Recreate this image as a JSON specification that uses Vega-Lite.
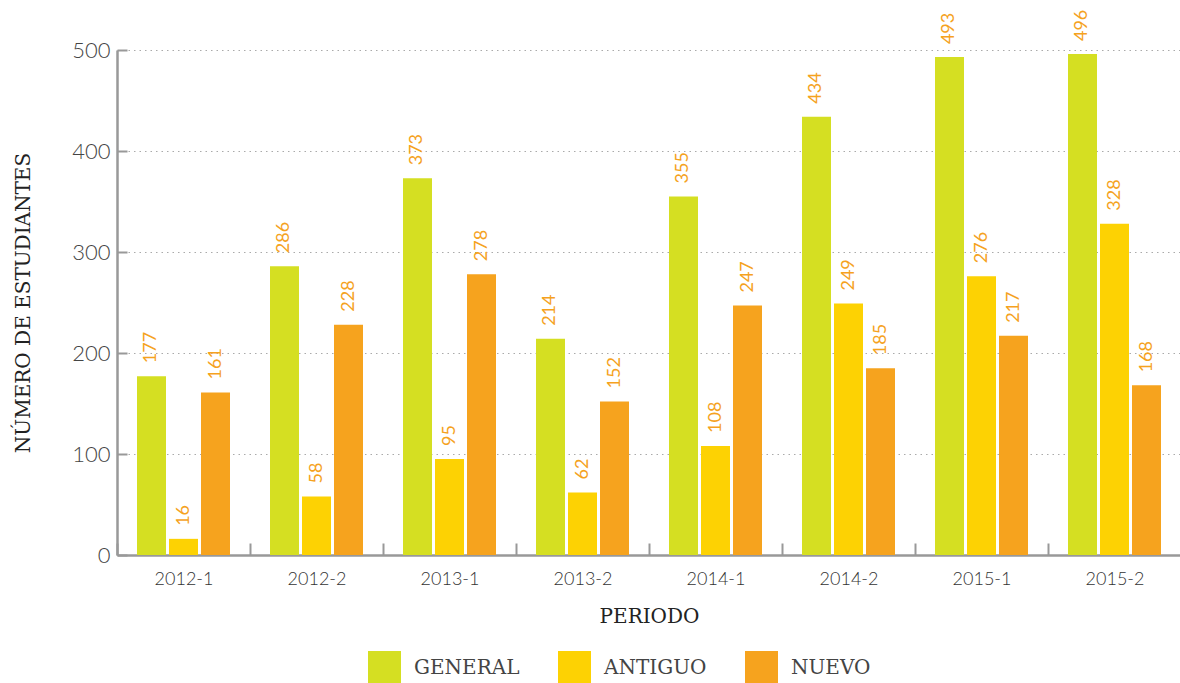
{
  "$schema": "https://vega.github.io/schema/vega-lite/v6.json",
  "autosize": {"type": "none"},
  "width": 1064,
  "height": 505,
  "padding": {"left": 117, "top": 50, "right": 0, "bottom": 128},
  "background": "white",
  "data": {
    "values": [
      {"periodo": "2012-1", "tipo": "GENERAL", "valor": 177},
      {"periodo": "2012-1", "tipo": "ANTIGUO", "valor": 16},
      {"periodo": "2012-1", "tipo": "NUEVO", "valor": 161},
      {"periodo": "2012-2", "tipo": "GENERAL", "valor": 286},
      {"periodo": "2012-2", "tipo": "ANTIGUO", "valor": 58},
      {"periodo": "2012-2", "tipo": "NUEVO", "valor": 228},
      {"periodo": "2013-1", "tipo": "GENERAL", "valor": 373},
      {"periodo": "2013-1", "tipo": "ANTIGUO", "valor": 95},
      {"periodo": "2013-1", "tipo": "NUEVO", "valor": 278},
      {"periodo": "2013-2", "tipo": "GENERAL", "valor": 214},
      {"periodo": "2013-2", "tipo": "ANTIGUO", "valor": 62},
      {"periodo": "2013-2", "tipo": "NUEVO", "valor": 152},
      {"periodo": "2014-1", "tipo": "GENERAL", "valor": 355},
      {"periodo": "2014-1", "tipo": "ANTIGUO", "valor": 108},
      {"periodo": "2014-1", "tipo": "NUEVO", "valor": 247},
      {"periodo": "2014-2", "tipo": "GENERAL", "valor": 434},
      {"periodo": "2014-2", "tipo": "ANTIGUO", "valor": 249},
      {"periodo": "2014-2", "tipo": "NUEVO", "valor": 185},
      {"periodo": "2015-1", "tipo": "GENERAL", "valor": 493},
      {"periodo": "2015-1", "tipo": "ANTIGUO", "valor": 276},
      {"periodo": "2015-1", "tipo": "NUEVO", "valor": 217},
      {"periodo": "2015-2", "tipo": "GENERAL", "valor": 496},
      {"periodo": "2015-2", "tipo": "ANTIGUO", "valor": 328},
      {"periodo": "2015-2", "tipo": "NUEVO", "valor": 168}
    ]
  },
  "encoding": {
    "x": {
      "field": "periodo",
      "type": "nominal",
      "scale": {"paddingInner": 0, "paddingOuter": 0},
      "axis": {
        "title": "PERIODO",
        "labelAngle": 0,
        "tickBand": "extent",
        "tickSize": -12,
        "tickColor": "#999999",
        "tickWidth": 2,
        "domainColor": "#999999",
        "domainWidth": 2.5,
        "labelFont": "Lato",
        "labelFontWeight": 300,
        "labelFontSize": 18,
        "labelColor": "#333333",
        "labelPadding": 27,
        "titleFont": "DejaVu Serif",
        "titleFontSize": 20,
        "titleFontWeight": "normal",
        "titleColor": "#222222",
        "titlePadding": 18
      }
    },
    "xOffset": {
      "field": "tipo",
      "type": "nominal",
      "sort": ["GENERAL", "ANTIGUO", "NUEVO"],
      "scale": {"paddingInner": 0.094, "paddingOuter": 0.625}
    },
    "y": {
      "field": "valor",
      "type": "quantitative",
      "scale": {"domain": [0, 500], "nice": false},
      "axis": {
        "title": "NÚMERO DE ESTUDIANTES",
        "values": [0, 100, 200, 300, 400, 500],
        "tickSize": -10,
        "tickColor": "#999999",
        "tickWidth": 2,
        "domainColor": "#999999",
        "domainWidth": 2.5,
        "gridColor": "#aaaaaa",
        "gridDash": [1.5, 4],
        "gridWidth": 1,
        "labelFont": "Lato",
        "labelFontWeight": 300,
        "labelFontSize": 22,
        "labelColor": "#444444",
        "labelPadding": 17,
        "titleFont": "DejaVu Serif",
        "titleFontSize": 20,
        "titleFontWeight": "normal",
        "titleColor": "#222222",
        "titlePadding": 38
      }
    }
  },
  "layer": [
    {
      "mark": {"type": "bar"},
      "encoding": {
        "color": {
          "field": "tipo",
          "type": "nominal",
          "sort": ["GENERAL", "ANTIGUO", "NUEVO"],
          "scale": {"domain": ["GENERAL", "ANTIGUO", "NUEVO"], "range": ["#d5df22", "#fdd203", "#f6a31e"]},
          "legend": {
            "title": null,
            "orient": "none",
            "direction": "horizontal",
            "legendX": 251,
            "legendY": 601,
            "symbolType": "square",
            "symbolSize": 1089,
            "symbolStrokeWidth": 0,
            "symbolOpacity": 1,
            "labelFont": "DejaVu Serif",
            "labelFontSize": 20,
            "labelColor": "#444444",
            "labelOffset": 13,
            "columnPadding": 38
          }
        }
      }
    },
    {
      "mark": {
        "type": "text",
        "angle": -90,
        "align": "left",
        "baseline": "middle",
        "dx": 13,
        "font": "Lato",
        "fontWeight": 400,
        "fontSize": 18,
        "color": "#f5a21e"
      },
      "encoding": {
        "text": {"field": "valor", "type": "quantitative"}
      }
    }
  ],
  "config": {
    "view": {"stroke": null}
  }
}
